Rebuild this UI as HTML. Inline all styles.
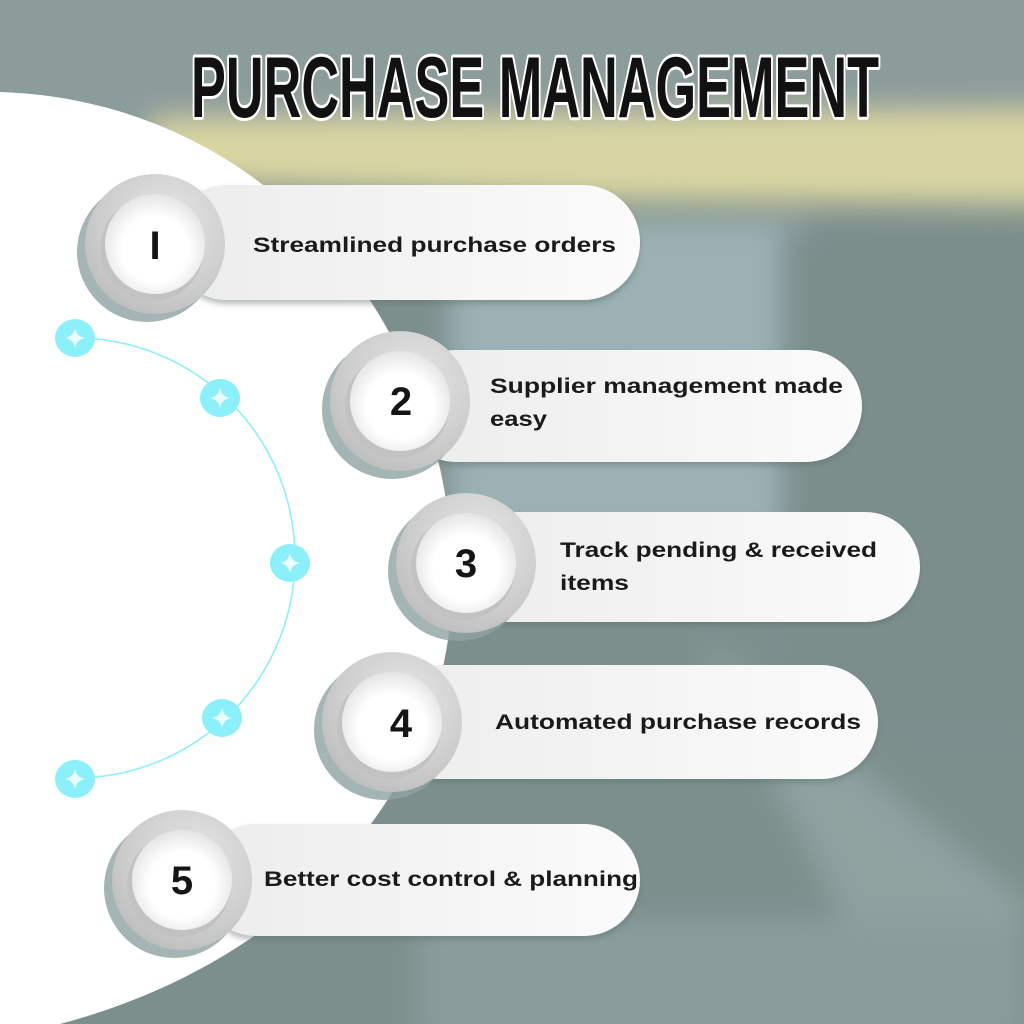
<!DOCTYPE html>
<html><head><meta charset="utf-8"><style>
html,body{margin:0;padding:0;width:1024px;height:1024px;overflow:hidden;background:#7d8f8d}
svg{display:block}
</style></head><body>
<svg width="1024" height="1024" viewBox="0 0 1024 1024" xmlns="http://www.w3.org/2000/svg">
<defs>
<filter id="blur" x="-20%" y="-20%" width="140%" height="140%"><feGaussianBlur stdDeviation="14"/></filter>
<filter id="sh" x="-20%" y="-30%" width="140%" height="170%"><feDropShadow dx="0" dy="4" stdDeviation="3" flood-color="#5f6f6f" flood-opacity="0.45"/></filter>
<radialGradient id="ring" cx="0.6" cy="0.35" r="0.7"><stop offset="0" stop-color="#e6e6e6"/><stop offset="0.7" stop-color="#cdcdcd"/><stop offset="1" stop-color="#bdbdbd"/></radialGradient>
<radialGradient id="inner" cx="0.5" cy="0.55" r="0.55"><stop offset="0.6" stop-color="#ffffff"/><stop offset="1" stop-color="#e4e4e4"/></radialGradient>
<linearGradient id="pill" x1="0" y1="0" x2="1" y2="0"><stop offset="0" stop-color="#ececec"/><stop offset="1" stop-color="#fbfbfb"/></linearGradient>
<g id="num">
  <circle cx="-8" cy="8" r="70" fill="#8fa3a3" opacity="0.8"/>
  <circle cx="0" cy="0" r="70" fill="url(#ring)"/>
  <circle cx="-3" cy="5" r="52" fill="#c2c2c2"/>
  <circle cx="0" cy="0" r="50" fill="url(#inner)"/>
</g>
<g id="star">
  <ellipse cx="0" cy="0" rx="20" ry="19" fill="#8cf0fb"/>
  <path d="M0,-10 Q1.5,-1.5 10,0 Q1.5,1.5 0,10 Q-1.5,1.5 -10,0 Q-1.5,-1.5 0,-10Z" fill="#eafcff"/>
</g>
</defs>
<!-- background -->
<rect width="1024" height="1024" fill="#7d8f8d"/>
<g filter="url(#blur)">
  <rect x="-40" y="-40" width="1100" height="170" fill="#8c9c9b"/>
  <path d="M150,120 L1060,110 L1060,205 L600,200 L150,180Z" fill="#d9d5a2"/>
  <rect x="450" y="220" width="380" height="340" rx="40" fill="#9bb1b4"/>
  <rect x="780" y="230" width="260" height="500" fill="#7b8e8c"/>
  <path d="M700,640 L1024,900 L1024,1024 L900,1024Z" fill="#8fa2a0"/>
  <rect x="420" y="920" width="600" height="120" fill="#8a9d9c"/>
</g>
<!-- white shape -->
<path d="M0,92 C250,100 440,300 452,560 C462,780 300,960 60,1024 L0,1024Z" fill="#ffffff"/>
<!-- arc -->
<path d="M75,338 A220,220 0 0 1 75,778" fill="none" stroke="#8eeefa" stroke-width="1.6"/>
<use href="#star" x="75" y="338"/>
<use href="#star" x="220" y="398"/>
<use href="#star" x="290" y="563"/>
<use href="#star" x="222" y="718"/>
<use href="#star" x="75" y="779"/>
<!-- title -->
<text x="535" y="117" text-anchor="middle" font-family="Liberation Sans Narrow, Liberation Sans, sans-serif" font-weight="bold" font-size="86" textLength="688" lengthAdjust="spacingAndGlyphs" fill="#111" stroke="#fff" stroke-width="6" paint-order="stroke" stroke-linejoin="round">PURCHASE MANAGEMENT</text>
<!-- pills -->
<g font-family="Liberation Sans, sans-serif" font-weight="bold" font-size="21" fill="#1a1a1a">
  <rect x="170" y="185" width="470" height="115" rx="57" fill="url(#pill)" filter="url(#sh)"/>
  <use href="#num" x="155" y="244"/>
  <text x="253" y="252" textLength="363" lengthAdjust="spacingAndGlyphs">Streamlined purchase orders</text>

  <rect x="400" y="350" width="462" height="112" rx="56" fill="url(#pill)" filter="url(#sh)"/>
  <use href="#num" x="400" y="401"/>
  <text x="490" y="393" textLength="353" lengthAdjust="spacingAndGlyphs">Supplier management made</text>
  <text x="490" y="426" textLength="57" lengthAdjust="spacingAndGlyphs">easy</text>

  <rect x="440" y="512" width="480" height="110" rx="55" fill="url(#pill)" filter="url(#sh)"/>
  <use href="#num" x="466" y="563"/>
  <text x="560" y="557" textLength="317" lengthAdjust="spacingAndGlyphs">Track pending &amp; received</text>
  <text x="560" y="590" textLength="69" lengthAdjust="spacingAndGlyphs">items</text>

  <rect x="360" y="665" width="518" height="114" rx="57" fill="url(#pill)" filter="url(#sh)"/>
  <use href="#num" x="392" y="722"/>
  <text x="495" y="729" textLength="366" lengthAdjust="spacingAndGlyphs">Automated purchase records</text>

  <rect x="200" y="824" width="440" height="112" rx="56" fill="url(#pill)" filter="url(#sh)"/>
  <use href="#num" x="182" y="880"/>
  <text x="264" y="886" textLength="374" lengthAdjust="spacingAndGlyphs">Better cost control &amp; planning</text>
</g>
<!-- numbers -->
<g font-family="Liberation Sans Narrow, Liberation Sans, sans-serif" font-weight="bold" font-size="40" fill="#151515" text-anchor="middle">
  <text x="155" y="259">I</text>
  <text x="401" y="415">2</text>
  <text x="466" y="577">3</text>
  <text x="401" y="737">4</text>
  <text x="182" y="894">5</text>
</g>
</svg>
</body></html>
